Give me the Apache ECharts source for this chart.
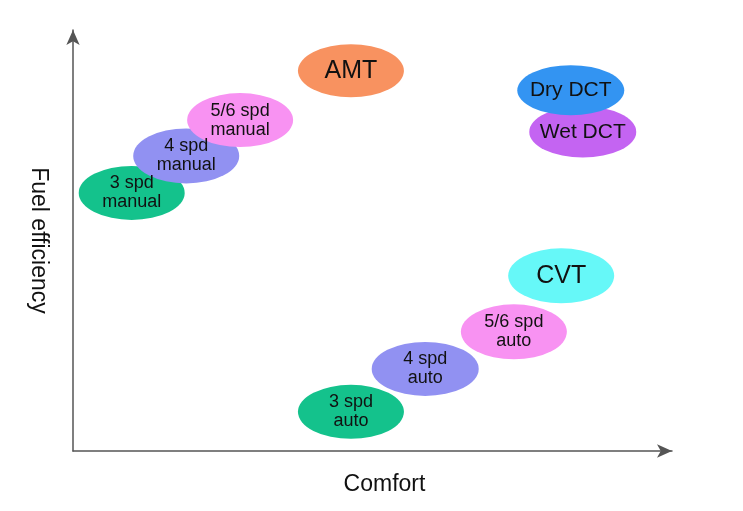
<!DOCTYPE html>
<html>
<head>
<meta charset="utf-8">
<script src="https://cdn.jsdelivr.net/npm/echarts@6/dist/echarts.min.js"></script>
<style>html,body{margin:0;padding:0;background:#fff}#c{width:743px;height:511px}</style>
</head>
<body>
<div id="c"></div>
<script>
// Data (drawing order: lower ellipses first)
var names = ['3 spd\nmanual', '4 spd\nmanual', '5/6 spd\nmanual', 'AMT', 'Wet DCT', 'Dry DCT', 'CVT', '3 spd\nauto', '4 spd\nauto', '5/6 spd\nauto'];
var comfort = [9.8, 18.9, 27.9, 46.4, 85.1, 83.1, 81.5, 46.4, 58.8, 73.6];
var efficiency = [61.3, 70.1, 78.6, 90.3, 75.8, 85.7, 41.6, 9.3, 19.5, 28.3];
var xAxisName = 'Comfort';
var yAxisName = 'Fuel efficiency';

// Styles
var styleMap = {
  '3 spd\nmanual': {color: '#14c28c', size: [106, 54], font: 18},
  '4 spd\nmanual': {color: '#9191f2', size: [106, 55], font: 18},
  '5/6 spd\nmanual': {color: '#f892f2', size: [106, 54], font: 18},
  'AMT': {color: '#f89260', size: [106, 53], font: 25},
  'Wet DCT': {color: '#c464f2', size: [107, 51], font: 21},
  'Dry DCT': {color: '#3394f2', size: [107, 50], font: 21},
  'CVT': {color: '#66f8f8', size: [106, 55], font: 25},
  '3 spd\nauto': {color: '#14c28c', size: [106, 54], font: 18},
  '4 spd\nauto': {color: '#9191f2', size: [107, 54], font: 18},
  '5/6 spd\nauto': {color: '#f892f2', size: [106, 55], font: 18}
};
var ellipsePath = 'path://M0 50A50 50 0 1 0 100 50A50 50 0 1 0 0 50Z';

var series = names.map(function (n, i) {
  var s = styleMap[n];
  return {
    type: 'scatter',
    name: n.replace('\n', ' '),
    z: 2,
    symbol: ellipsePath,
    symbolKeepAspect: false,
    symbolSize: s.size,
    itemStyle: {color: s.color, opacity: 1},
    label: {
      show: true, position: 'inside', formatter: n,
      color: '#111', fontSize: s.font, lineHeight: 19,
      fontFamily: 'Liberation Sans, Arial, sans-serif'
    },
    emphasis: {disabled: true},
    data: [[comfort[i], efficiency[i]]]
  };
});

var chart = echarts.init(document.getElementById('c'), null, {renderer: 'canvas'});
chart.setOption({
  animation: false,
  backgroundColor: '#fff',
  grid: {left: 73, right: 71, top: 30, bottom: 60},
  xAxis: {
    type: 'value', min: 0, max: 100,
    name: xAxisName, nameLocation: 'middle', nameGap: 22,
    nameTextStyle: {fontSize: 23, color: '#111', fontFamily: 'Liberation Sans, Arial, sans-serif', padding: [0, 0, 0, 24]},
    axisLine: {show: true, symbol: ['none', 'arrow'], symbolSize: [10, 15], lineStyle: {color: '#555', width: 1.5}},
    axisTick: {show: false}, axisLabel: {show: false}, splitLine: {show: false}
  },
  yAxis: {
    type: 'value', min: 0, max: 100,
    name: yAxisName, nameLocation: 'middle', nameGap: 23, nameRotate: -90,
    nameTextStyle: {fontSize: 23, color: '#111', fontFamily: 'Liberation Sans, Arial, sans-serif'},
    axisLine: {show: true, symbol: ['none', 'arrow'], symbolSize: [10, 15], lineStyle: {color: '#555', width: 1.5}},
    axisTick: {show: false}, axisLabel: {show: false}, splitLine: {show: false}
  },
  series: series
});
</script>
</body>
</html>
